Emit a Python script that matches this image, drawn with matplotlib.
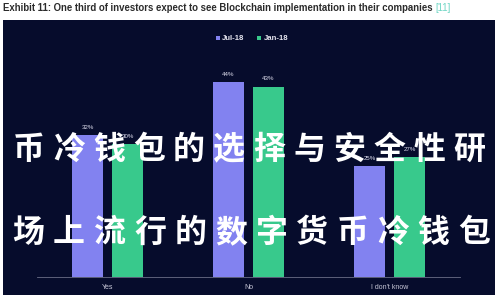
import matplotlib
matplotlib.use("Agg")
import matplotlib.pyplot as plt
from matplotlib.patches import Rectangle
import numpy as np

categories = ["Yes", "No", "I don't know"]
series_names = ["Jul-18", "Jan-18"]
jul18 = [32, 44, 25]
jan18 = [30, 43, 27]
colors = ["#8282f0", "#38c98c"]

title = "Exhibit 11: One third of investors expect to see Blockchain implementation in their companies"
overlay_line1 = "币冷钱包的选择与安全性研"
overlay_line2 = "市场上流行的数字货币冷钱包"

W, H = 500, 300
fig = plt.figure(figsize=(5, 3), dpi=100, facecolor="white")

def fx(px):
    return px / W

def fy(py):
    return 1 - py / H

# dark panel behind the chart
fig.patches.append(Rectangle((fx(3), fy(295)), fx(492), 275 / H,
                             transform=fig.transFigure, facecolor="#060c2c",
                             edgecolor="none", zorder=-5))

# title with reference marker
t = fig.text(fx(3), fy(8), title, fontsize=6.95, fontweight="bold",
             color="#2b2b2b", family="Liberation Sans", va="center", ha="left")
fig.canvas.draw()
bb = t.get_window_extent()
fig.text(bb.x1 / W + fx(3), fy(8), "[11]", fontsize=6.95, color="#6fd6c4",
         family="Liberation Sans", va="center", ha="left")

ax = fig.add_axes([fx(37), fy(277), fx(423), (277 - 55.5) / H])
ax.set_facecolor("none")
ax.set_zorder(1)
x = np.arange(len(categories))
width = 0.22
offset = 0.142
b1 = ax.bar(x - offset, jul18, width, color=colors[0], label=series_names[0])
b2 = ax.bar(x + offset, jan18, width, color=colors[1], label=series_names[1])
for bars, vals in ((b1, jul18), (b2, jan18)):
    for rect, v in zip(bars, vals):
        ax.text(rect.get_x() + rect.get_width() / 2, v + 1.2, f"{v}%",
                ha="center", va="bottom", fontsize=4.4, color="#e0e0f0",
                family="Liberation Sans")

ax.set_xlim(-0.5, 2.5)
ax.set_ylim(0, 50)
ax.set_yticks([])
ax.set_xticks(x)
ax.set_xticklabels(categories, fontsize=5, color="#c8c8d8", family="Liberation Sans")
ax.tick_params(axis="x", length=0, pad=5)
for side in ("left", "right", "top"):
    ax.spines[side].set_visible(False)
ax.spines["bottom"].set_color("#6a6e86")
ax.spines["bottom"].set_linewidth(0.6)

leg = fig.legend(handles=[b1, b2], labels=series_names, loc="center",
                 bbox_to_anchor=(fx(252), fy(39)), ncol=2, frameon=False,
                 prop={"family": "Liberation Sans", "weight": "bold", "size": 5.6},
                 handlelength=0.5, handleheight=0.5,
                 handletextpad=0.35, columnspacing=1.6)
for txt in leg.get_texts():
    txt.set_color("#e6e6f0")

# large overlay lines, one glyph per slot
cjk = ["Noto Sans CJK SC", "DejaVu Sans"]
for i, ch in enumerate(overlay_line1):
    fig.text(fx(29 + 40 * i), fy(150), ch, fontsize=23, fontweight="bold",
             color="white", family=cjk, ha="center", va="center", zorder=10)
for i, ch in enumerate(overlay_line2):
    fig.text(fx(-12 + 40.5 * i), fy(233), ch, fontsize=23, fontweight="bold",
             color="white", family=cjk, ha="center", va="center", zorder=10)

fig.savefig("out.png", dpi=100, facecolor="white")
